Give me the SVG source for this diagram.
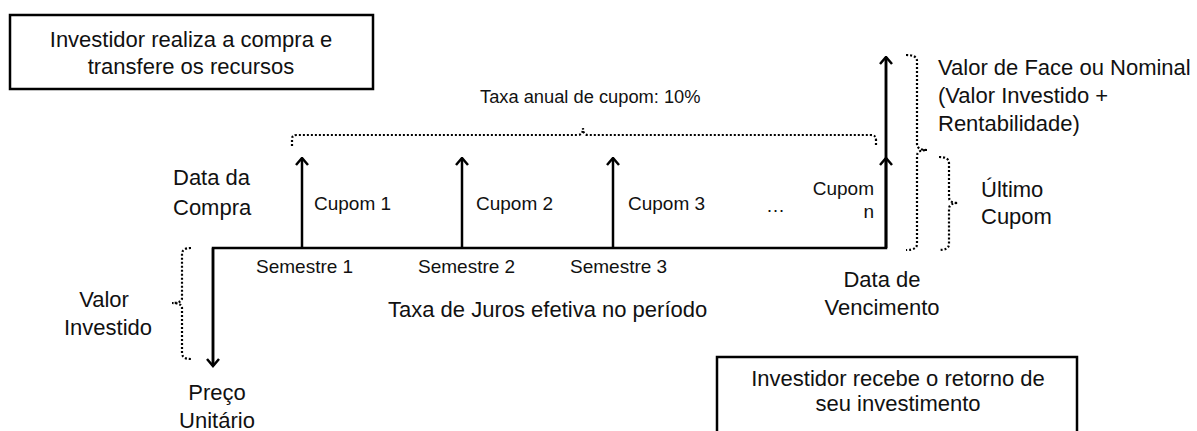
<svg xmlns="http://www.w3.org/2000/svg" width="1197" height="431" viewBox="0 0 1197 431">
<defs>
<style>
text{font-family:"Liberation Sans",Arial,sans-serif;fill:#111}
.big{font-size:22px}
.sm{font-size:19px}
.xs{font-size:18.3px}
.mid{text-anchor:middle}
.end{text-anchor:end}
.box{fill:#fff;stroke:#000;stroke-width:2.5}
.line{fill:none;stroke:#000;stroke-width:2.5}
.dot{fill:none;stroke:#000;stroke-width:2.2;stroke-dasharray:2 2}
</style>
<marker id="ah" viewBox="0 0 10 14" refX="8.5" refY="7" markerWidth="10" markerHeight="14" markerUnits="userSpaceOnUse" orient="auto">
<path d="M1.5,1 L8.5,7 L1.5,13" fill="none" stroke="#000" stroke-width="2.5"/>
</marker>
</defs>
<rect width="1197" height="431" fill="#fff"/>

<g id="box-compra">
<rect class="box" x="10" y="15" width="363" height="74"/>
<text class="big mid" x="191" y="47">Investidor realiza a compra e</text>
<text class="big mid" x="191" y="74">transfere os recursos</text>
</g>

<g id="box-retorno">
<rect class="box" x="717" y="357" width="360" height="80"/>
<text class="big mid" x="898" y="386">Investidor recebe o retorno de</text>
<text class="big mid" x="898" y="411">seu investimento</text>
</g>

<g id="connectors">
<path class="line" d="M213,366 V248 H886 V57"/>
<path class="line" d="M213,248 V366" marker-end="url(#ah)"/>
<path class="line" d="M886,248 V57" marker-end="url(#ah)"/>
<path class="line" d="M886,248 V158" marker-end="url(#ah)"/>
<path class="line" d="M302,248 V158" marker-end="url(#ah)"/>
<path class="line" d="M462,248 V158" marker-end="url(#ah)"/>
<path class="line" d="M613,248 V158" marker-end="url(#ah)"/>
</g>

<g id="braces">
<path class="dot" d="M292,146 V139 Q292,135 297,135 H578 Q583,135 583,128 Q583,135 588,135 H871 Q876,135 876,140 V146"/>
<path class="dot" d="M191,248 Q182,248 182,254 V298 Q182,303 172,303 Q182,303 182,308 V353 Q182,359 191,359"/>
<path class="dot" d="M906,55 Q917,55 917,61 V144 Q917,150 927,150 Q917,150 917,156 V244 Q917,250 906,250"/>
<path class="dot" d="M939,157 Q949,157 949,163 V197 Q949,203 958,203 Q949,203 949,209 V244 Q949,250 939,250"/>
</g>

<g id="labels">
<text class="xs" x="480" y="103">Taxa anual de cupom: 10%</text>
<text class="big" x="173" y="185">Data da</text>
<text class="big" x="173" y="215">Compra</text>
<text class="sm" x="314" y="210">Cupom 1</text>
<text class="sm" x="476" y="210">Cupom 2</text>
<text class="sm" x="628" y="210">Cupom 3</text>
<text class="sm" x="766" y="212">…</text>
<text class="sm end" x="874" y="195">Cupom</text>
<text class="sm end" x="874" y="218">n</text>
<text class="sm" x="256" y="273">Semestre 1</text>
<text class="sm" x="418" y="273">Semestre 2</text>
<text class="sm" x="570" y="273">Semestre 3</text>
<text class="big" x="388" y="317">Taxa de Juros efetiva no período</text>
<text class="big mid" x="882" y="287">Data de</text>
<text class="big mid" x="882" y="315">Vencimento</text>
<text class="big mid" x="104" y="307">Valor</text>
<text class="big mid" x="108" y="335">Investido</text>
<text class="big mid" x="217" y="400">Preço</text>
<text class="big mid" x="217" y="428">Unitário</text>
<text class="big" x="938" y="75">Valor de Face ou Nominal</text>
<text class="big" x="938" y="103">(Valor Investido +</text>
<text class="big" x="938" y="131">Rentabilidade)</text>
<text class="big" x="981" y="197">Último</text>
<text class="big" x="981" y="224">Cupom</text>
</g>
</svg>
